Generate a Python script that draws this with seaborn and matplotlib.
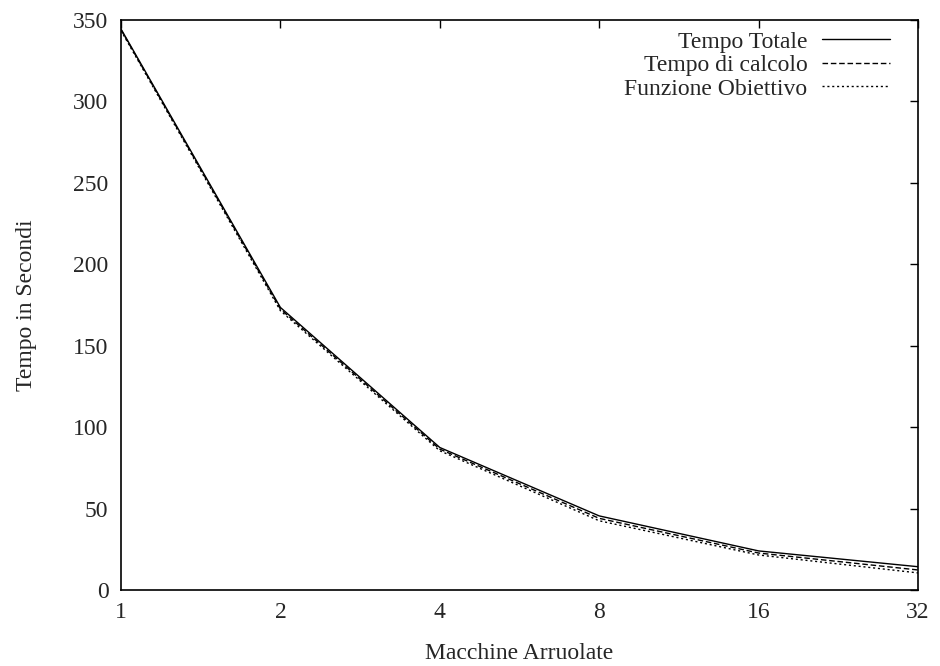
import matplotlib
matplotlib.use("Agg")
import matplotlib.pyplot as plt
import seaborn as sns
import pandas as pd

# Enrolled machines and measured times (seconds)
macchine = [1, 2, 4, 8, 16, 32]
tempo_totale = [344.5, 173.5, 87.5, 45.5, 24.0, 14.3]
tempo_calcolo = [344.0, 172.5, 86.5, 44.0, 22.7, 12.3]
funzione_obiettivo = [343.5, 171.5, 85.5, 42.5, 21.5, 10.5]
serie = ["Tempo Totale", "Tempo di calcolo", "Funzione Obiettivo"]
x_ticks = [1, 2, 4, 8, 16, 32]
y_ticks = [0, 50, 100, 150, 200, 250, 300, 350]

sns.set_theme(style="white")
plt.rcParams["font.family"] = ["Liberation Serif", "DejaVu Serif"]

df = pd.DataFrame({
    "Macchine": macchine * 3,
    "Tempo": tempo_totale + tempo_calcolo + funzione_obiettivo,
    "Serie": [serie[0]] * 6 + [serie[1]] * 6 + [serie[2]] * 6,
})

fig = plt.figure(figsize=(9.4, 6.66), dpi=100)
ax = fig.add_axes([121 / 940, 1 - 590 / 666, (918 - 121) / 940, (590 - 20) / 666])

dashes = {serie[0]: None, serie[1]: (4, 2), serie[2]: (1.5, 2)}
for name in serie:
    sub = df[df["Serie"] == name]
    sns.lineplot(data=sub, x="Macchine", y="Tempo", ax=ax, color="black",
                 linewidth=1.0, label=name)
    if dashes[name]:
        ax.lines[-1].set_dashes(dashes[name])

ax.set_xscale("log", base=2)
ax.set_xlim(1, 32)
ax.set_ylim(0, 350)
ax.set_xticks(x_ticks)
ax.set_xticklabels([str(v) for v in x_ticks])
ax.set_yticks(y_ticks)
ax.set_yticklabels([str(v) for v in y_ticks])
ax.minorticks_off()

FS = 17
ax.tick_params(axis="both", which="major", direction="in", length=6,
               width=1, top=True, right=True, labelsize=FS, color="black")
ax.tick_params(axis="y", pad=9)
ax.tick_params(axis="x", pad=9)
for sp in ax.spines.values():
    sp.set_visible(True)
    sp.set_color("black")
    sp.set_linewidth(1.2)

ax.set_xlabel("Macchine Arruolate", fontsize=FS, labelpad=14)
ax.set_ylabel("Tempo in Secondi", fontsize=FS, labelpad=26)

leg = ax.legend(loc="upper right", frameon=False, markerfirst=False,
                fontsize=FS, handlelength=2.9, handletextpad=0.6,
                labelspacing=0.08, borderaxespad=0.0,
                bbox_to_anchor=(1 - 0.0233, 0.997))
for t in leg.get_texts():
    t.set_ha("right")

fig.savefig("out.png", dpi=100, facecolor="white")
